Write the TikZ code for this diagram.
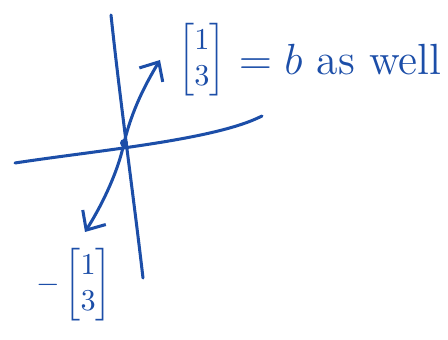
\documentclass[tikz,border=0pt]{standalone}
\usepackage{amsmath}
\usetikzlibrary{arrows.meta, positioning}
\definecolor{penblue}{RGB}{28,78,168}

\begin{document}
\begin{tikzpicture}[x=0.33pt, y=-0.33pt,
  pen/.style={penblue, line width=1pt, line cap=round},
  vecarr/.style={pen, -{Straight Barb[length=5pt, width=9pt, line width=1pt]}},
  lbl/.style={text=penblue, inner sep=1pt},
]
\useasboundingbox (0,0) rectangle (448,340);
% axes
\coordinate (O) at (124,143);
\coordinate (ytop) at (111,15);
\coordinate (ybot) at (143,278);
\coordinate (xl) at (15,163);
\coordinate (xr) at (262,116);
\draw[pen] (ytop) .. controls (120,100) and (134,200) .. (ybot);
\draw[pen] (xl) .. controls (100,150) and (215,140) .. (xr);
\fill[penblue] (O) circle (4);
% vectors and labels
\node[lbl] (pv) at (202,60) {$\begin{bmatrix}1\\3\end{bmatrix}$};
\node[lbl, right=2pt of pv, font=\Large] (eq) {$=b$ as well};
\coordinate (ptip) at (160,60);
\draw[vecarr] (O) .. controls (132,110) and (145,85) .. (ptip);
\node[lbl] (nv) at (74,285) {$-\begin{bmatrix}1\\3\end{bmatrix}$};
\coordinate (ntip) at (85,232);
\draw[vecarr] (O) .. controls (118,172) and (102,205) .. (ntip);
\end{tikzpicture}
\end{document}
